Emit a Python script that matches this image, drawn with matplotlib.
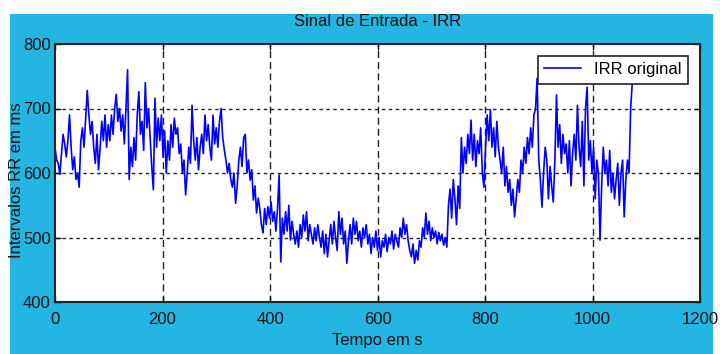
import numpy as np
import matplotlib
matplotlib.use("Agg")
import matplotlib.pyplot as plt
from matplotlib.patches import Rectangle
from matplotlib import font_manager

# IRR (ms), uma amostra a cada 3 s
irr = [
    640, 620, 615, 598, 630, 660, 645, 625, 650, 690,
    640, 605, 625, 590, 600, 578, 650, 670, 640, 685,
    728, 690, 660, 680, 640, 615, 660, 605, 640, 680,
    650, 690, 640, 675, 650, 690, 660, 700, 722, 680,
    700, 665, 690, 645, 700, 760, 590, 640, 610, 655,
    620, 690, 726, 660, 680, 635, 740, 670, 700, 655,
    610, 574, 716, 640, 685, 650, 690, 625, 665, 600,
    650, 620, 675, 640, 685, 660, 670, 630, 645, 600,
    620, 566, 600, 640, 615, 705, 650, 620, 655, 605,
    640, 660, 630, 690, 650, 675, 640, 620, 690, 645,
    670, 640, 680, 700, 655, 636, 620, 600, 615, 590,
    578, 600, 553, 580, 620, 640, 610, 655, 660, 600,
    620, 589, 605, 558, 580, 538, 561, 545, 520, 507,
    545, 520, 548, 530, 555, 525, 540, 510, 545, 597,
    462, 530, 505, 540, 510, 550, 496, 525, 505, 490,
    510, 485, 520, 500, 535, 510, 540, 495, 520, 505,
    490, 515, 495, 520, 500, 485, 510, 475, 505, 470,
    495, 520, 490, 525, 500, 480, 540, 505, 530, 490,
    510, 460, 495, 520, 490, 530, 505, 525, 495, 510,
    485, 515, 500, 520, 490, 505, 475, 500, 485, 510,
    480, 500, 470, 495, 485, 505, 478, 500, 490, 510,
    482, 505, 495, 485, 515, 500, 530, 505, 520, 495,
    480, 470, 490, 460, 480, 465, 495, 485, 515, 500,
    538, 505, 525, 495, 515, 500, 510, 490, 508, 495,
    505, 488, 500, 485, 550, 575, 530, 590, 560, 520,
    580, 545, 655, 600, 640, 615, 660, 630, 682, 620,
    660, 610, 650, 630, 670, 600, 578, 640, 690, 650,
    698, 640, 670, 625, 680, 640, 620, 600, 640, 580,
    610, 570, 590, 550, 575, 532, 560, 590, 570, 620,
    600, 640, 615, 655, 630, 670, 640, 690, 700, 747,
    620, 590, 547, 600, 640, 620, 560, 610, 580, 555,
    620, 721, 640, 675, 615, 660, 630, 645, 600, 650,
    580, 630, 660, 620, 705, 640, 610, 680, 580, 700,
    733, 620, 650, 600, 640, 560, 620, 600, 496, 580,
    640, 600, 620, 580, 635, 570, 600, 560, 590, 615,
    550, 600, 620, 532, 590, 620, 600, 700, 740,
]
tempo = np.arange(len(irr)) * 3.0

xticks = [0, 200, 400, 600, 800, 1000, 1200]
yticks = [400, 500, 600, 700, 800]

nomes = {f.name for f in font_manager.fontManager.ttflist}
fonte = 'Liberation Sans Narrow' if 'Liberation Sans Narrow' in nomes else 'Liberation Sans'
plt.rcParams['font.family'] = [fonte, 'DejaVu Sans']

fig = plt.figure(figsize=(7.2, 3.54), dpi=100, facecolor='white')
# fundo azul estilo matlab
fig.patches.append(Rectangle((10 / 720, 0), 703 / 720, 340 / 354,
                             transform=fig.transFigure, facecolor='#25b5e2',
                             edgecolor='none', zorder=-10))

ax = fig.add_axes([55 / 720, 52 / 354, 645 / 720, 258 / 354])
ax.set_zorder(5)
ax.set_facecolor('white')
ax.plot(tempo, irr, color='#0000ff', lw=1.2, label='IRR original')

ax.set_xlim(0, 1200)
ax.set_ylim(400, 800)
ax.set_xticks(xticks)
ax.set_yticks(yticks)
ax.tick_params(direction='in', length=4, width=1, top=True, right=True,
               labelsize=12, colors='#111111')
ax.tick_params(axis='x', pad=7)
ax.tick_params(axis='y', pad=3)

for y in yticks[1:-1]:
    ax.axhline(y, color='#222222', lw=1.0, ls=(0, (2.5, 2.5)), zorder=0)
for x in xticks[1:-1]:
    ax.axvline(x, color='#222222', lw=1.0, ls=(0, (5, 3)), zorder=0)

for s in ax.spines.values():
    s.set_linewidth(1.5)
    s.set_color('#222222')

# titulo e rotulos em posicao fixa (pixels da figura)
cx = (55 + 700) / 2 / 720
fig.text(cx, 1 - 22 / 354, 'Sinal de Entrada - IRR', fontsize=12,
         ha='center', va='center', color='#111111')
fig.text(cx, 1 - 341 / 354, 'Tempo em s', fontsize=12,
         ha='center', va='center', color='#111111')
fig.text(17 / 720, 1 - 180 / 354, 'Intervalos RR em ms', fontsize=12,
         ha='center', va='center', rotation=90, color='#111111')

leg = ax.legend(loc='upper right', fontsize=12, fancybox=False,
                framealpha=1, edgecolor='#222222', handlelength=2.2,
                borderaxespad=0.7, borderpad=0.4)
leg.get_frame().set_linewidth(1.2)

fig.savefig('out.png', dpi=100, facecolor='white')
